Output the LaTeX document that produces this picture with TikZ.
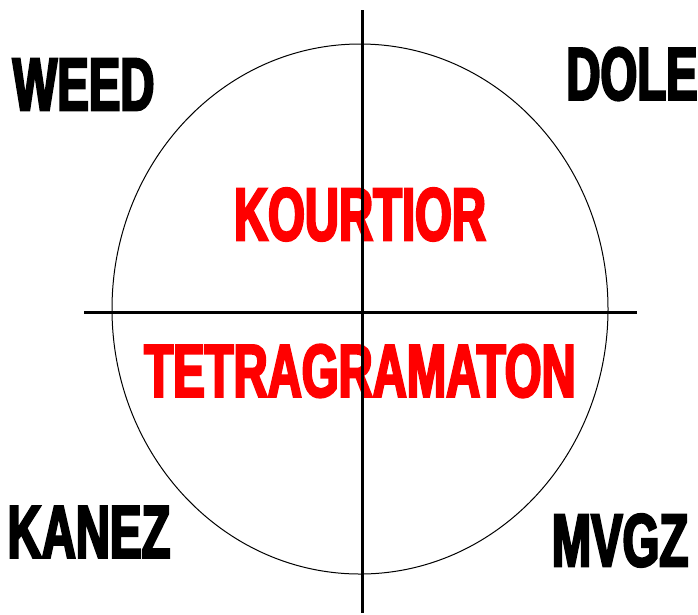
\documentclass[tikz,border=0pt]{standalone}
\usepackage{fontspec}
\usepackage{xcolor}
\newfontfamily\heavyfont[FakeStretch=0.63,FakeBold=3]{Liberation Sans}
\definecolor{ink}{HTML}{000000}
\definecolor{hot}{HTML}{FF0000}
\usetikzlibrary{positioning}
\tikzset{
  every picture/.style={line width=1pt},
  word/.style={font=\heavyfont\bfseries\fontsize{75}{80}\selectfont, inner sep=0pt, text=ink},
  redword/.style={word, text=hot},
  axis/.style={draw=ink, line width=3pt},
  ring/.style={draw=ink, line width=1pt},
}

\begin{document}
\begin{tikzpicture}[x=1pt, y=-1pt]
  \useasboundingbox (0,0) rectangle (698,614);
  % names inside
  \node[redword] (kourtior) at (360,214.5) {KOURTIOR};
  \node[redword] (tetra) at (360,371) {TETRAGRAMATON};
  % corner names
  \foreach \name/\x/\y/\label in {weed/83.5/84.5/WEED, dole/632/74/DOLE, kanez/89/532/KANEZ, mvgz/620/540.5/MVGZ} {
    \node[word] (\name) at (\x,\y) {\label};
  }
  % circle and cross
  \coordinate (ctr) at (360,309);
  \coordinate (top) at (362,10);
  \coordinate (bot) at (362,613);
  \coordinate (lft) at (84,312);
  \coordinate (rgt) at (637,312);
  \draw[ring] (ctr) ellipse [x radius=248, y radius=265];
  \draw[axis] (top) -- (bot);
  \draw[axis] (lft) -- (rgt);
\end{tikzpicture}
\end{document}
